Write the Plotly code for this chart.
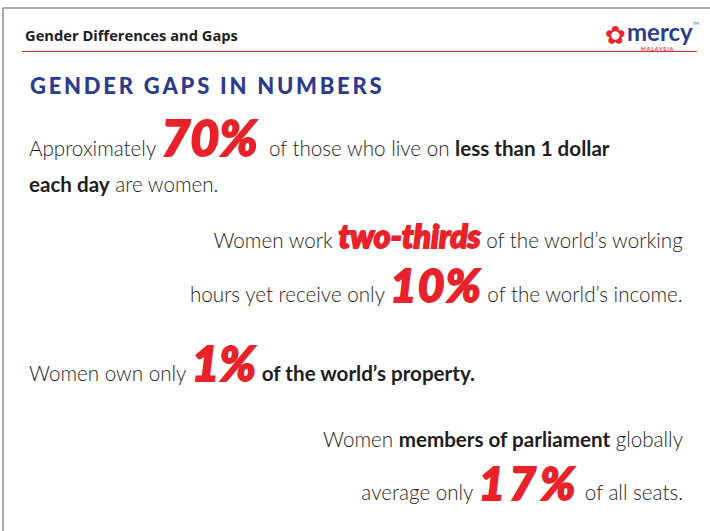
import plotly.graph_objects as go

header = "Gender Differences and Gaps"
title = "GENDER GAPS IN NUMBERS"
stat_values = ["70%", "two-thirds", "10%", "1%", "17%"]

RED = "#e8222b"
BLUE = "#2d3b8e"
INK = "#1e1e1e"
BODY = "Lato, 'Open Sans', sans-serif"
FS = 20.6


def txt(t):
    return "<span style='font-size:%.1fpx'>%s</span>" % (FS, t)


def bold(t):
    return "<span style='font-size:%.1fpx;font-weight:700'>%s</span>" % (FS, t)


def big(v, size, spacing=0):
    # heavy red italic figure, thickened with a stroke
    return ("<i><span style='font-size:%dpx;color:%s;font-weight:900;letter-spacing:%dpx;"
            "stroke:%s;stroke-width:1.8px'>%s</span></i>" % (size, RED, spacing, RED, v))


# paragraphs: (lines, x, y, anchor, base size -> line spacing)
paragraphs = [
    ([txt("Approximately ") + big(stat_values[0], 50) + txt("  of those who live on ") + bold("less than 1 dollar"),
      bold("each day") + txt(" are women.")], 28, 151, "left", 27.5),
    ([txt("Women work ") + big(stat_values[1], 32) + txt(" of the world\u2019s working"),
      txt("hours yet receive only ") + big(stat_values[2], 46, 1) + txt(" of the world\u2019s income.")],
     684, 264, "right", 41.5),
    ([txt("Women own only ") + big(stat_values[3], 48) + txt(" ") + bold("of the world\u2019s property.")],
     28, 362, "left", 21),
    ([txt("Women ") + bold("members of parliament") + txt(" globally"),
      txt("average only ") + big(stat_values[4], 46, 4) + txt(" of all seats.")],
     684, 468, "right", 40.8),
]

fig = go.Figure()
fig.add_trace(go.Scatter(x=[0, 710], y=[0, 531], mode="markers", marker=dict(opacity=0), hoverinfo="skip"))

ann = []
ann.append(dict(x=24, y=35, text="<b>" + header + "</b>", xanchor="left", yanchor="middle",
                font=dict(family="'Open Sans', Lato, sans-serif", size=14.7, color=INK)))
spaced = "\u2009".join(list(title))
ann.append(dict(x=29, y=85, text=spaced, xanchor="left", yanchor="middle",
                font=dict(family=BODY, size=22, color=BLUE, weight=900)))
for rows, x, y, anchor, base in paragraphs:
    ann.append(dict(x=x, y=y, text="<br>".join(rows), xanchor=anchor, yanchor="middle", align=anchor,
                    font=dict(family=BODY, size=base, color=INK, weight=300)))

# logo
ann.append(dict(x=615, y=35, text="\u273f", xanchor="center", yanchor="middle",
                font=dict(family="DejaVu Sans", size=25, color=RED)))
ann.append(dict(x=626, y=31, text="<b>mercy</b>", xanchor="left", yanchor="middle",
                font=dict(family=BODY, size=24, color=BLUE, weight=900)))
ann.append(dict(x=692, y=23, text="TM", xanchor="left", yanchor="middle",
                font=dict(family=BODY, size=4, color=BLUE)))
ann.append(dict(x=657, y=45, text="<b>M A L A Y S I A</b>", xanchor="center", yanchor="top",
                font=dict(family=BODY, size=5, color=RED)))

for a in ann:
    a.update(xref="x", yref="y", showarrow=False, borderpad=0)

shapes = [
    dict(type="line", x0=3, x1=710, y0=8, y1=8, line=dict(color="#8c8c8c", width=1.5)),
    dict(type="line", x0=3, x1=3, y0=8, y1=531, line=dict(color="#8c8c8c", width=1.5)),
    dict(type="line", x0=22, x1=697, y0=51.5, y1=51.5, line=dict(color=RED, width=1)),
]
for s in shapes:
    s.update(xref="x", yref="y")

fig.update_layout(
    width=710, height=531,
    margin=dict(l=0, r=0, t=0, b=0),
    paper_bgcolor="white", plot_bgcolor="white",
    xaxis=dict(range=[0, 710], visible=False, fixedrange=True),
    yaxis=dict(range=[531, 0], visible=False, fixedrange=True),
    showlegend=False,
    annotations=ann, shapes=shapes,
)
fig.write_html("out.html", config={"displayModeBar": False},
               post_script="document.body.style.margin='0px';")
